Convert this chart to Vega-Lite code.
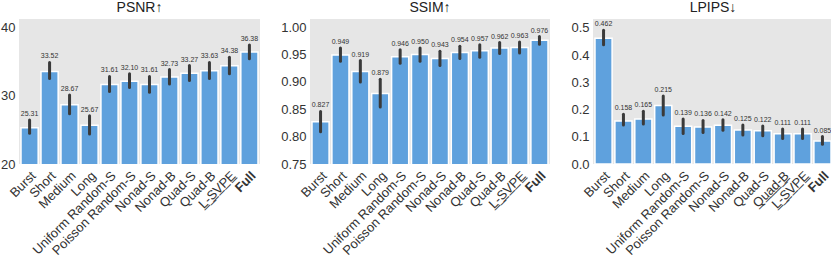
{
  "$schema": "https://vega.github.io/schema/vega-lite/v6.json",
  "padding": {"left": 0, "top": 1, "right": 0, "bottom": 0},
  "config": {
    "font": "Liberation Sans",
    "view": {"fill": "#e6e6e6", "stroke": null},
    "concat": {"spacing": 20},
    "axis": {"ticks": false, "domain": false, "grid": false, "labelColor": "#333", "title": null, "labelOverlap": false}
  },
  "datasets": {
    "d": [
      {"m": "PSNR", "name": "Burst", "v": 25.31, "lo": 24.5, "hi": 26.45},
      {"m": "PSNR", "name": "Short", "v": 33.52, "lo": 32.5, "hi": 34.85},
      {"m": "PSNR", "name": "Medium", "v": 28.67, "lo": 27.35, "hi": 30.1},
      {"m": "PSNR", "name": "Long", "v": 25.67, "lo": 24.4, "hi": 27.05},
      {"m": "PSNR", "name": "Uniform Random-S", "v": 31.61, "lo": 30.6, "hi": 32.8},
      {"m": "PSNR", "name": "Poisson Random-S", "v": 32.10, "lo": 31.2, "hi": 33.2},
      {"m": "PSNR", "name": "Nonad-S", "v": 31.61, "lo": 30.5, "hi": 32.8},
      {"m": "PSNR", "name": "Nonad-B", "v": 32.73, "lo": 31.7, "hi": 33.8},
      {"m": "PSNR", "name": "Quad-S", "v": 33.27, "lo": 32.2, "hi": 34.4},
      {"m": "PSNR", "name": "Quad-B", "v": 33.63, "lo": 32.5, "hi": 34.85},
      {"m": "PSNR", "name": "L-SVPE", "v": 34.38, "lo": 33.2, "hi": 35.6},
      {"m": "PSNR", "name": "Full", "v": 36.38, "lo": 35.4, "hi": 37.4},
      {"m": "SSIM", "name": "Burst", "v": 0.827, "lo": 0.809, "hi": 0.846},
      {"m": "SSIM", "name": "Short", "v": 0.949, "lo": 0.938, "hi": 0.962},
      {"m": "SSIM", "name": "Medium", "v": 0.919, "lo": 0.900, "hi": 0.939},
      {"m": "SSIM", "name": "Long", "v": 0.879, "lo": 0.854, "hi": 0.905},
      {"m": "SSIM", "name": "Uniform Random-S", "v": 0.946, "lo": 0.934, "hi": 0.959},
      {"m": "SSIM", "name": "Poisson Random-S", "v": 0.950, "lo": 0.938, "hi": 0.962},
      {"m": "SSIM", "name": "Nonad-S", "v": 0.943, "lo": 0.930, "hi": 0.956},
      {"m": "SSIM", "name": "Nonad-B", "v": 0.954, "lo": 0.943, "hi": 0.965},
      {"m": "SSIM", "name": "Quad-S", "v": 0.957, "lo": 0.945, "hi": 0.968},
      {"m": "SSIM", "name": "Quad-B", "v": 0.962, "lo": 0.952, "hi": 0.972},
      {"m": "SSIM", "name": "L-SVPE", "v": 0.963, "lo": 0.953, "hi": 0.973},
      {"m": "SSIM", "name": "Full", "v": 0.976, "lo": 0.969, "hi": 0.983},
      {"m": "LPIPS", "name": "Burst", "v": 0.462, "lo": 0.438, "hi": 0.492},
      {"m": "LPIPS", "name": "Short", "v": 0.158, "lo": 0.143, "hi": 0.183},
      {"m": "LPIPS", "name": "Medium", "v": 0.165, "lo": 0.147, "hi": 0.194},
      {"m": "LPIPS", "name": "Long", "v": 0.215, "lo": 0.180, "hi": 0.250},
      {"m": "LPIPS", "name": "Uniform Random-S", "v": 0.139, "lo": 0.112, "hi": 0.165},
      {"m": "LPIPS", "name": "Poisson Random-S", "v": 0.136, "lo": 0.116, "hi": 0.160},
      {"m": "LPIPS", "name": "Nonad-S", "v": 0.142, "lo": 0.124, "hi": 0.163},
      {"m": "LPIPS", "name": "Nonad-B", "v": 0.125, "lo": 0.107, "hi": 0.143},
      {"m": "LPIPS", "name": "Quad-S", "v": 0.122, "lo": 0.104, "hi": 0.140},
      {"m": "LPIPS", "name": "Quad-B", "v": 0.111, "lo": 0.094, "hi": 0.129},
      {"m": "LPIPS", "name": "L-SVPE", "v": 0.111, "lo": 0.094, "hi": 0.129},
      {"m": "LPIPS", "name": "Full", "v": 0.085, "lo": 0.073, "hi": 0.101}
    ]
  },
  "hconcat": [
    {
      "width": 241, "height": 145,
      "title": {"text": "PSNR\u2191", "fontSize": 14, "fontWeight": "normal", "color": "#222", "offset": 4},
      "data": {"name": "d"},
      "transform": [{"filter": "datum.m == 'PSNR'"}],
      "encoding": {
        "x": {"field": "name", "type": "nominal", "sort": null,
          "scale": {"paddingInner": 0.14, "paddingOuter": 0.1},
          "axis": {"labelAngle": -45, "labelAlign": "right", "labelBaseline": "top", "labelFontSize": 13, "labelPadding": 5,
            "labelExpr": "datum.value == 'L-SVPE' ? 'L\u0332-\u0332S\u0332V\u0332P\u0332E\u0332' : datum.value",
            "labelFontWeight": {"condition": {"test": "datum.value == 'Full'", "value": "bold"}, "value": "normal"}}}
      },
      "layer": [
        {"mark": {"type": "bar", "color": "#5fa1dd", "stroke": "white", "strokeWidth": 1.5, "clip": true},
         "encoding": {"y": {"field": "v", "type": "quantitative",
           "scale": {"domain": [20, 41.2], "nice": false, "zero": false},
           "axis": {"values": [20, 30, 40], "labelFontSize": 13, "labelPadding": 4, "labelOverlap": false}}}},
        {"mark": {"type": "rule", "color": "#3a3a3a", "strokeWidth": 3, "strokeCap": "round"},
         "encoding": {"y": {"field": "lo", "type": "quantitative",
           "scale": {"domain": [20, 41.2], "nice": false, "zero": false},
           "axis": {"values": [20, 30, 40], "labelFontSize": 13, "labelPadding": 4, "labelOverlap": false}}, "y2": {"field": "hi"}}},
        {"mark": {"type": "text", "dy": -6, "fontSize": 7, "color": "#333"},
         "encoding": {"y": {"field": "hi", "type": "quantitative",
           "scale": {"domain": [20, 41.2], "nice": false, "zero": false},
           "axis": {"values": [20, 30, 40], "labelFontSize": 13, "labelPadding": 4, "labelOverlap": false}}, "text": {"field": "v", "type": "quantitative", "format": ".2f"}}}
      ]
    },
    {
      "width": 240, "height": 145,
      "title": {"text": "SSIM\u2191", "fontSize": 14, "fontWeight": "normal", "color": "#222", "offset": 4},
      "data": {"name": "d"},
      "transform": [{"filter": "datum.m == 'SSIM'"}],
      "encoding": {
        "x": {"field": "name", "type": "nominal", "sort": null,
          "scale": {"paddingInner": 0.14, "paddingOuter": 0.1},
          "axis": {"labelAngle": -45, "labelAlign": "right", "labelBaseline": "top", "labelFontSize": 13, "labelPadding": 5,
            "labelExpr": "datum.value == 'L-SVPE' ? 'L\u0332-\u0332S\u0332V\u0332P\u0332E\u0332' : datum.value",
            "labelFontWeight": {"condition": {"test": "datum.value == 'Full'", "value": "bold"}, "value": "normal"}}}
      },
      "layer": [
        {"mark": {"type": "bar", "color": "#5fa1dd", "stroke": "white", "strokeWidth": 1.5, "clip": true},
         "encoding": {"y": {"field": "v", "type": "quantitative",
           "scale": {"domain": [0.75, 1.015], "nice": false, "zero": false},
           "axis": {"values": [0.75, 0.8, 0.85, 0.9, 0.95, 1.0], "format": ".2f", "labelFontSize": 13, "labelPadding": 4, "labelOverlap": false}}}},
        {"mark": {"type": "rule", "color": "#3a3a3a", "strokeWidth": 3, "strokeCap": "round"},
         "encoding": {"y": {"field": "lo", "type": "quantitative",
           "scale": {"domain": [0.75, 1.015], "nice": false, "zero": false},
           "axis": {"values": [0.75, 0.8, 0.85, 0.9, 0.95, 1.0], "format": ".2f", "labelFontSize": 13, "labelPadding": 4, "labelOverlap": false}}, "y2": {"field": "hi"}}},
        {"mark": {"type": "text", "dy": -6, "fontSize": 7, "color": "#333"},
         "encoding": {"y": {"field": "hi", "type": "quantitative",
           "scale": {"domain": [0.75, 1.015], "nice": false, "zero": false},
           "axis": {"values": [0.75, 0.8, 0.85, 0.9, 0.95, 1.0], "format": ".2f", "labelFontSize": 13, "labelPadding": 4, "labelOverlap": false}}, "text": {"field": "v", "type": "quantitative", "format": ".3f"}}}
      ]
    },
    {
      "width": 240, "height": 145,
      "title": {"text": "LPIPS\u2193", "fontSize": 14, "fontWeight": "normal", "color": "#222", "offset": 4},
      "data": {"name": "d"},
      "transform": [{"filter": "datum.m == 'LPIPS'"}],
      "encoding": {
        "x": {"field": "name", "type": "nominal", "sort": null,
          "scale": {"paddingInner": 0.14, "paddingOuter": 0.1},
          "axis": {"labelAngle": -45, "labelAlign": "right", "labelBaseline": "top", "labelFontSize": 13, "labelPadding": 5,
            "labelExpr": "datum.value == 'L-SVPE' ? 'L\u0332-\u0332S\u0332V\u0332P\u0332E\u0332' : (datum.value == 'Quad-B' ? 'Q\u0332u\u0332a\u0332d\u0332-\u0332B\u0332' : datum.value)",
            "labelFontWeight": {"condition": {"test": "datum.value == 'Full'", "value": "bold"}, "value": "normal"}}}
      },
      "layer": [
        {"mark": {"type": "bar", "color": "#5fa1dd", "stroke": "white", "strokeWidth": 1.5, "clip": true},
         "encoding": {"y": {"field": "v", "type": "quantitative",
           "scale": {"domain": [0, 0.533], "nice": false, "zero": false},
           "axis": {"values": [0, 0.1, 0.2, 0.3, 0.4, 0.5], "format": ".1f", "labelFontSize": 13, "labelPadding": 4, "labelOverlap": false}}}},
        {"mark": {"type": "rule", "color": "#3a3a3a", "strokeWidth": 3, "strokeCap": "round"},
         "encoding": {"y": {"field": "lo", "type": "quantitative",
           "scale": {"domain": [0, 0.533], "nice": false, "zero": false},
           "axis": {"values": [0, 0.1, 0.2, 0.3, 0.4, 0.5], "format": ".1f", "labelFontSize": 13, "labelPadding": 4, "labelOverlap": false}}, "y2": {"field": "hi"}}},
        {"mark": {"type": "text", "dy": -6, "fontSize": 7, "color": "#333"},
         "encoding": {"y": {"field": "hi", "type": "quantitative",
           "scale": {"domain": [0, 0.533], "nice": false, "zero": false},
           "axis": {"values": [0, 0.1, 0.2, 0.3, 0.4, 0.5], "format": ".1f", "labelFontSize": 13, "labelPadding": 4, "labelOverlap": false}}, "text": {"field": "v", "type": "quantitative", "format": ".3f"}}}
      ]
    }
  ]
}
